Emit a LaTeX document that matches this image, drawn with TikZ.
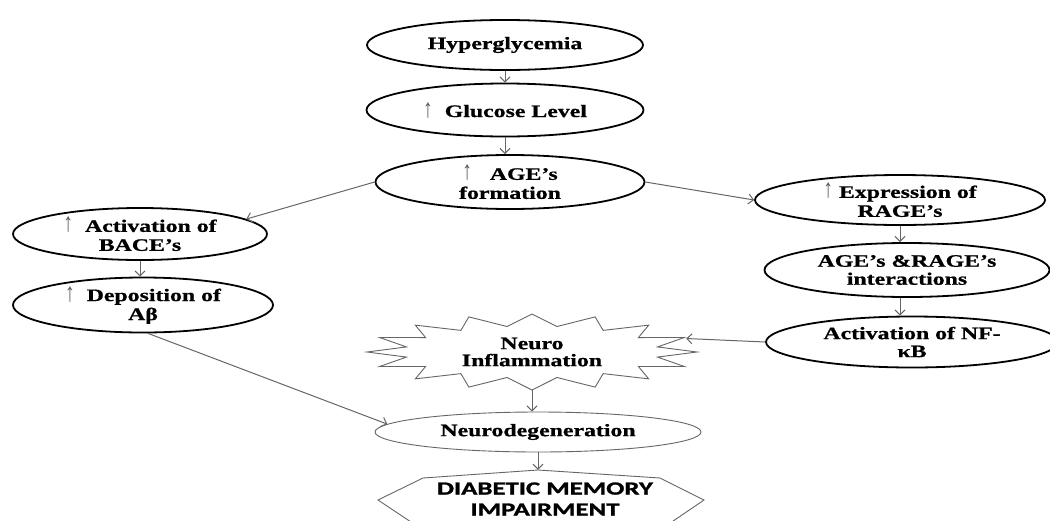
\documentclass[tikz,border=0pt]{standalone}
\usepackage{fontspec}
\usepackage{graphicx}
\setmainfont{Liberation Serif}
\newfontfamily\tnrfont[FakeStretch=1.36, BoldFeatures={FakeBold=0.8}]{Liberation Serif}
\newfontfamily\arrfont{Liberation Serif}
\newfontfamily\calfont[FakeStretch=1.45, BoldFeatures={FakeBold=1.5}]{Carlito}
\usetikzlibrary{shapes.geometric,arrows.meta,calc}
\newcommand{\uparr}{{\arrfont\mdseries\fontsize{17}{18}\selectfont\textcolor{black!65}{\scalebox{1.15}[1.55]{↑}}}}
\tikzset{
  mainbox/.style={ellipse, draw=black, line width=1.8pt, inner sep=0pt, align=center,
    font={\tnrfont\bfseries\fontsize{17.5}{18}\selectfont}},
  softbox/.style={ellipse, draw=black!60, line width=0.9pt, inner sep=0pt, align=center,
    font={\tnrfont\bfseries\fontsize{17.5}{18}\selectfont}},
  softline/.style={draw=black!60, line width=0.9pt},
  arr/.style={draw=black!60, line width=1pt, -{Straight Barb[length=5pt,width=10pt]}},
}
\begin{document}
\begin{tikzpicture}[x=1pt,y=-1pt]
\useasboundingbox (0,0) rectangle (1050,520);
\fill[white] (0,0) rectangle (1050,520);
% top chain
\node[mainbox, minimum width=276, minimum height=50] (hyper) at (505,45) {Hyperglycemia};
\node[mainbox, minimum width=277, minimum height=53] (gluc) at (505,110) {\uparr\ \ Glucose Level};
\node[mainbox, minimum width=269, minimum height=54] (age) at (510,182) {\uparr\ \ \ AGE’s\\[1pt]formation};
% left branch
\node[mainbox, minimum width=254, minimum height=52] (bace) at (140,234) {\uparr\ \ Activation of\\[1pt]BACE’s};
\node[mainbox, minimum width=260, minimum height=55] (dep) at (143,305) {\uparr\ \ Deposition of\\[1pt]Aβ};
% right branch
\node[mainbox, minimum width=290, minimum height=50] (expr) at (900,200) {\uparr\ Expression of\\[1pt]RAGE’s};
\node[mainbox, minimum width=285, minimum height=54] (inter) at (907,270) {AGE’s \&RAGE’s\\interactions};
\node[mainbox, minimum width=292, minimum height=51] (nfkb) at (912,342) {Activation of NF-\\κB};
% centre bottom
\node[ellipse, inner sep=0pt, minimum width=330, minimum height=75, align=center,
  font={\tnrfont\bfseries\fontsize{17.5}{17}\selectfont}] (neuro) at (532,352) {Neuro\\Inflammation};
\draw[softline] ($(neuro.center)+(0:165 and 38)$)
  \foreach \k in {0,...,15}{ -- ($(neuro.center)+(\k*22.5+11.25:128 and 26)$)
     -- ($(neuro.center)+(\k*22.5+22.5:165 and 38)$) } -- cycle;
\node[softbox, minimum width=326, minimum height=40] (neurodeg) at (538,432) {Neurodegeneration};
\node[rectangle, inner sep=0pt, minimum width=280, minimum height=58, align=center,
  font={\calfont\bfseries\fontsize{18.5}{21}\selectfont}] (dmi) at (545,499) {DIABETIC MEMORY\\IMPAIRMENT};
\draw[softline] (378,500) -- (423,478) -- (538,470) -- (660,478) -- (704,500) -- (660,530) -- (423,530) -- cycle;
% connectors
\draw[arr] (hyper.south) -- (hyper.south |- gluc.north);
\draw[arr] (gluc.south) -- (gluc.south |- age.north);
\draw[arr] (age.west) -- (bace.8);
\draw[arr] (age.east) -- (expr.west);
\draw[arr] (bace.south) -- (bace.south |- dep.north);
\draw[arr] (expr.south) -- (expr.south |- inter.north);
\draw[arr] (expr.south |- inter.south) -- (expr.south |- nfkb.north);
\draw[arr] (nfkb.west) -- (neuro.5);
\draw[arr] (dep.-80) -- (neurodeg.177);
\draw[arr] (neuro.south) -- (neuro.south |- neurodeg.north);
\draw[arr] (neurodeg.south) -- (neurodeg.south |- dmi.north);
\end{tikzpicture}
\end{document}
